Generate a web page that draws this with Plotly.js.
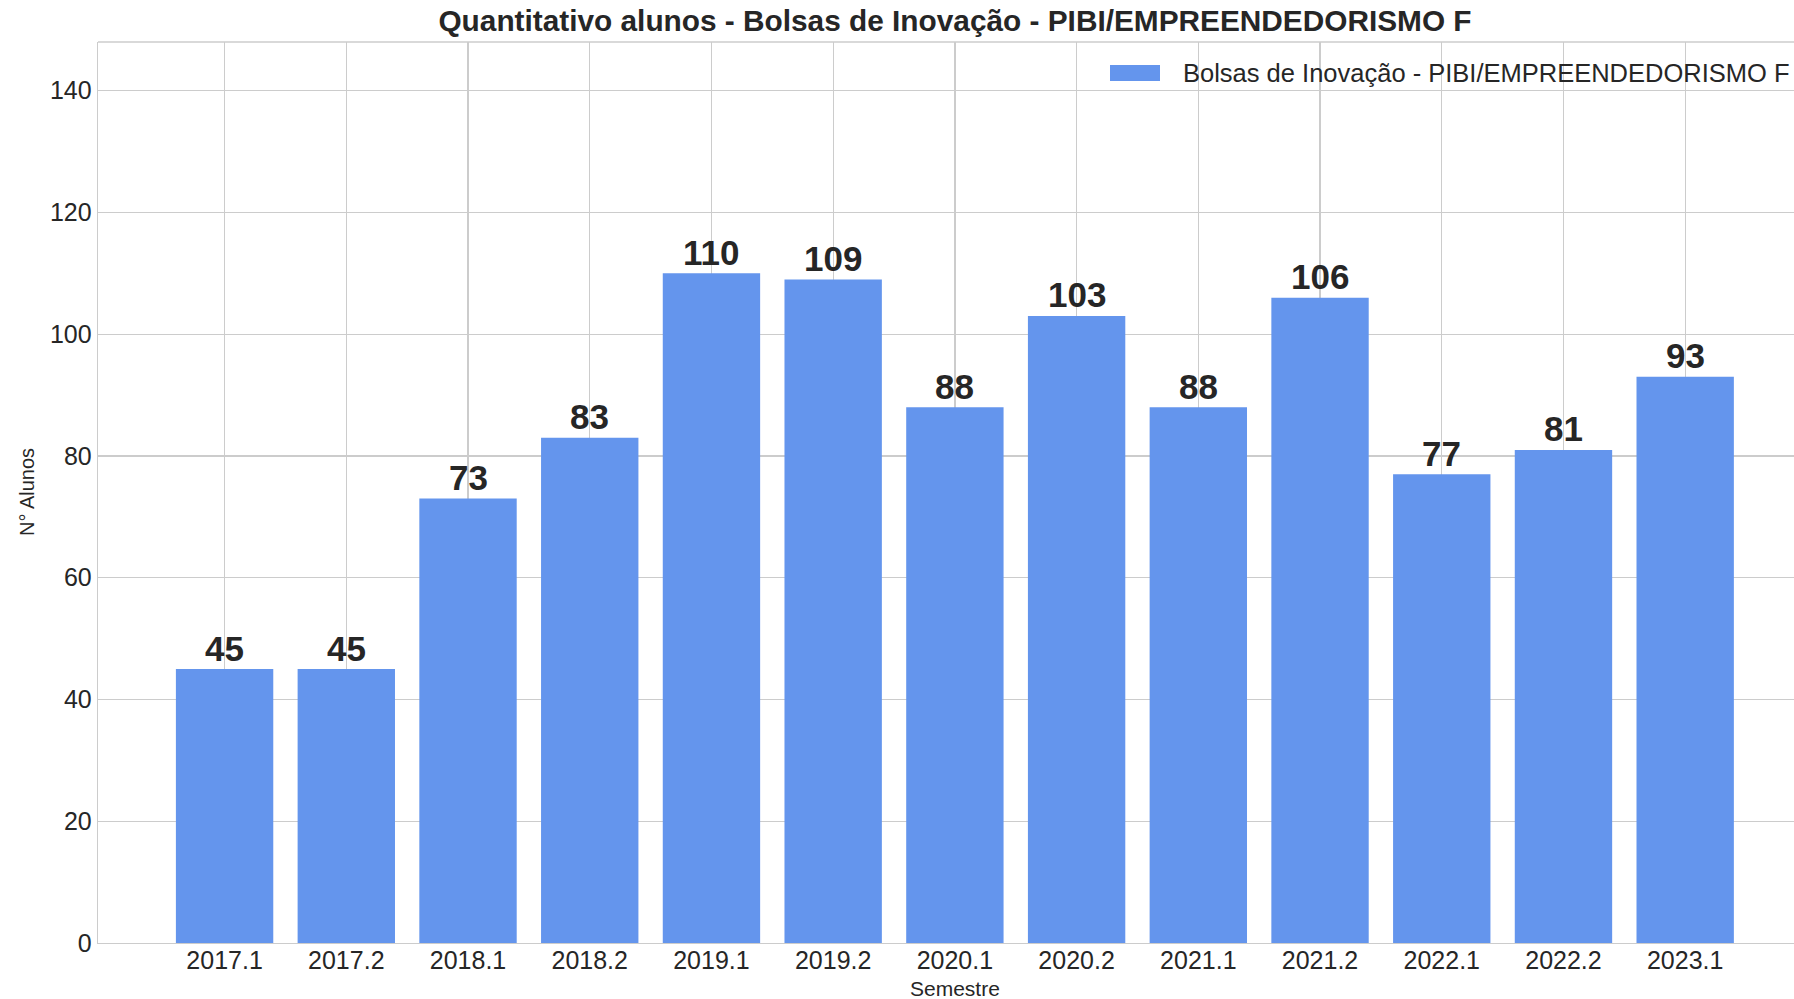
<!DOCTYPE html>
<html>
<head>
<meta charset="utf-8">
<script src="https://cdn.plot.ly/plotly-3.0.1.min.js"></script>
<style>html,body{margin:0;padding:0;background:#fff;}#chart{width:1794px;height:999px;}</style>
</head>
<body>
<div id="chart"></div>
<script>
const semesters = ["2017.1","2017.2","2018.1","2018.2","2019.1","2019.2","2020.1","2020.2","2021.1","2021.2","2022.1","2022.2","2023.1"];
const alunos = [45,45,73,83,110,109,88,103,88,106,77,81,93];
const seriesName = "Bolsas de Inovação - PIBI/EMPREENDEDORISMO F";
const chartTitle = "Quantitativo alunos - Bolsas de Inovação - PIBI/EMPREENDEDORISMO F";
const xTitle = "Semestre";
const yTitle = "N° Alunos";
const yTicks = [0,20,40,60,80,100,120,140];

const W = 1794, H = 999;
const L = 98, R = 0, T = 42, B = 56;
const pw = W - L - R, ph = H - T - B;
const px = x => (x - L) / pw;
const py = y => (H - B - y) / ph;

const FONT = "Liberation Sans, Arial, sans-serif";
const TXT = "#262626";
const GRID = "#cccccc";

const trace = {
  type: "bar",
  x: semesters,
  y: alunos,
  name: seriesName,
  width: 0.8,
  marker: {color: "#6495ED", line: {width: 0}},
  showlegend: false,
  hoverinfo: "skip"
};

// category axis: annotation x uses the category's serial index
const barLabels = semesters.map((s, i) => ({
  xref: "x", yref: "y", x: i, y: alunos[i],
  text: "<b>" + alunos[i] + "</b>", showarrow: false,
  xanchor: "center", yanchor: "middle", yshift: 21,
  font: {family: FONT, size: 35, color: TXT}
}));

const layout = {
  width: W, height: H,
  margin: {l: L, r: R, t: T, b: B, pad: 0},
  paper_bgcolor: "#ffffff",
  plot_bgcolor: "#ffffff",
  font: {family: FONT, color: TXT, size: 25},
  showlegend: false,
  title: {
    text: "<b>" + chartTitle + "</b>",
    font: {family: FONT, size: 29.8, color: TXT},
    xref: "paper", x: px(955), xanchor: "center",
    yref: "container", y: 1 - 20.5/H, yanchor: "middle"
  },
  xaxis: {
    type: "category",
    range: [-1.04, 12.894],
    showgrid: true, gridcolor: GRID, gridwidth: 1.3,
    showline: true, linecolor: GRID, linewidth: 1.3, mirror: false,
    ticks: "", ticklabelstandoff: -5,
    tickfont: {family: FONT, size: 25, color: TXT},
    zeroline: false
  },
  yaxis: {
    range: [0, 148],
    tickvals: yTicks,
    showgrid: true, gridcolor: GRID, gridwidth: 1.3,
    showline: true, linecolor: GRID, linewidth: 1.3,
    ticks: "", ticklabelstandoff: 0,
    tickfont: {family: FONT, size: 25, color: TXT},
    zeroline: false
  },
  shapes: [
    {type: "line", xref: "paper", yref: "paper", x0: 0, x1: 1, y0: 1, y1: 1, line: {color: GRID, width: 1.3}},
    {type: "rect", xref: "paper", yref: "paper", x0: px(1110), x1: px(1160), y0: py(81), y1: py(65), fillcolor: "#6495ED", line: {width: 0}}
  ],
  annotations: barLabels.concat([
    {xref: "paper", yref: "paper", x: px(1181), y: py(73), xanchor: "left", yanchor: "middle",
     text: seriesName, showarrow: false, font: {family: FONT, size: 25.5, color: TXT}},
    {xref: "paper", yref: "paper", x: px(955), y: py(988.5), xanchor: "center", yanchor: "middle",
     text: xTitle, showarrow: false, font: {family: FONT, size: 21, color: TXT}},
    {xref: "paper", yref: "paper", x: px(26.5), y: 0.5, xanchor: "center", yanchor: "middle", textangle: -90,
     text: yTitle, showarrow: false, font: {family: FONT, size: 20, color: TXT}}
  ])
};

Plotly.newPlot("chart", [trace], layout, {displayModeBar: false, staticPlot: true});
</script>
</body>
</html>
